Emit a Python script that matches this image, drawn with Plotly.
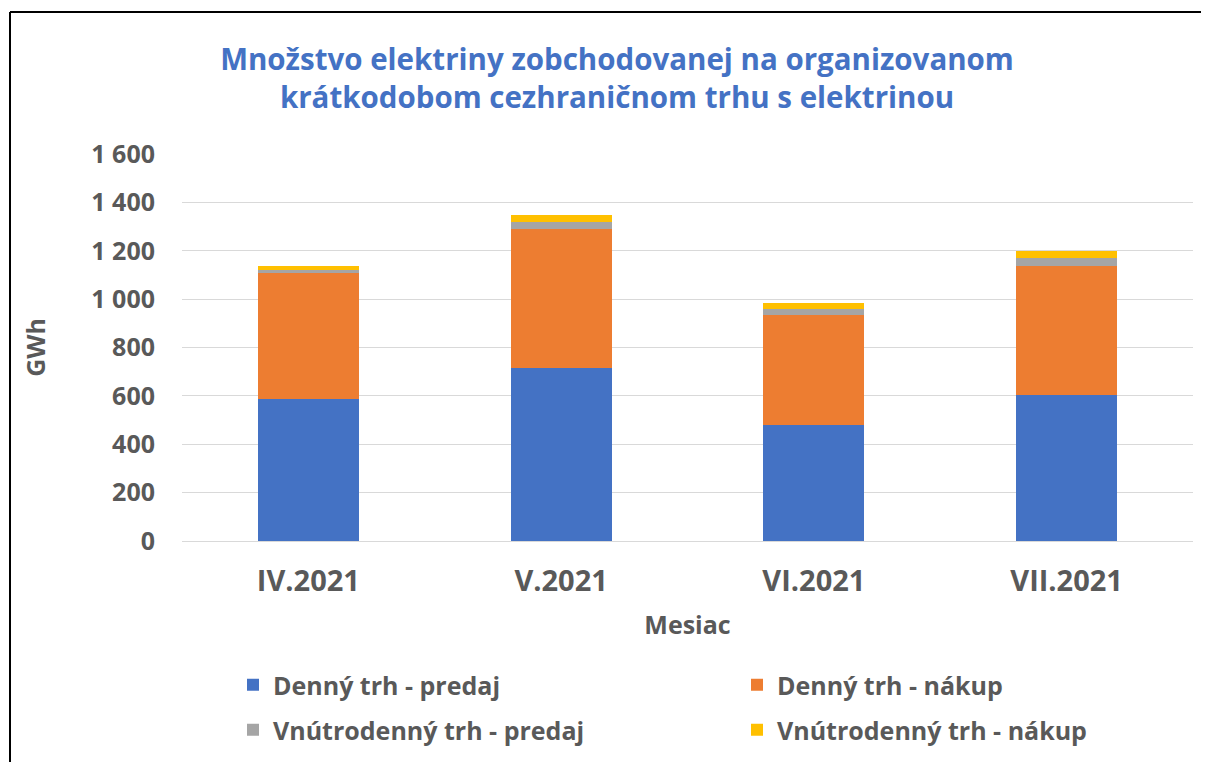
import plotly.graph_objects as go

months = ["IV.2021", "V.2021", "VI.2021", "VII.2021"]
denny_predaj = [587, 714, 481, 602]
denny_nakup = [520, 577, 453, 536]
vnutro_predaj = [13, 26, 24, 32]
vnutro_nakup = [18, 29, 26, 28]

series_names = ["Denný trh - predaj", "Denný trh - nákup",
                "Vnútrodenný trh - predaj", "Vnútrodenný trh - nákup"]
series_vals = [denny_predaj, denny_nakup, vnutro_predaj, vnutro_nakup]
colors = ["#4472C4", "#ED7D31", "#A5A5A5", "#FFC000"]
legend_ids = ["legend", "legend2", "legend3", "legend4"]

# page has an 8px body margin; figure sized to fill the rest of the window
OFF = 8
W, H = 1209 - OFF, 762 - OFF
ML, MR, MT, MB = 182 - OFF, 16, 154 - OFF, 221
PW, PH = W - ML - MR, H - MT - MB

FONT = "Open Sans"
TXT = "#595959"


def px_x(rx):
    return (rx - OFF - ML) / PW


def px_y(ry):
    return (H - MB - (ry - OFF)) / PH


fig = go.Figure()
for name, vals, c, lg in zip(series_names, series_vals, colors, legend_ids):
    fig.add_trace(go.Bar(x=months, y=vals, name=name, marker_color=c,
                         marker_line_width=0, legend=lg))

leg_common = dict(
    orientation="h", xanchor="left", yanchor="middle",
    font=dict(family=FONT, size=25, color=TXT, weight="bold"),
    itemclick=False, bgcolor="rgba(0,0,0,0)",
)
# legend grid: two columns, two rows (reference pixel positions)
leg_pos = [(233, 685), (737, 685), (233, 730), (737, 730)]

layout_legends = {}
for lg, (lx, ly) in zip(legend_ids, leg_pos):
    layout_legends[lg] = dict(x=px_x(lx), y=px_y(ly), **leg_common)

fig.update_layout(
    width=W, height=H,
    barmode="stack", bargap=0.6,
    plot_bgcolor="white", paper_bgcolor="white",
    margin=dict(l=ML, r=MR, t=MT, b=MB, autoexpand=False),
    separators=", ",
    font=dict(family=FONT, color=TXT),
    title=dict(
        text="Množstvo elektriny zobchodovanej na organizovanom<br>krátkodobom cezhraničnom trhu s elektrinou",
        x=(617 - OFF) / W, xanchor="center",
        y=1 - (70 - OFF) / H, yanchor="middle",
        font=dict(family=FONT, size=29.5, color="#4472C4", weight="bold"),
    ),
    xaxis=dict(
        showgrid=False, showline=False, ticks="",
        tickfont=dict(family=FONT, size=29, color=TXT, weight="bold"),
        ticklabelstandoff=20,
        title=dict(text="Mesiac", font=dict(family=FONT, size=25, color=TXT, weight="bold"),
                   standoff=18),
    ),
    yaxis=dict(
        range=[0, 1600], tickvals=[0, 200, 400, 600, 800, 1000, 1200, 1400, 1600],
        tickformat=",d",
        showgrid=True, gridcolor="#D9D9D9", gridwidth=1.3,
        zeroline=True, zerolinecolor="#D9D9D9", zerolinewidth=1.3,
        showline=False, ticks="",
        tickfont=dict(family=FONT, size=25, color=TXT, weight="bold"),
        ticklabelstandoff=26,
        title=dict(text="GWh", font=dict(family=FONT, size=25, color=TXT, weight="bold"),
                   standoff=38),
    ),
    showlegend=True,
    **layout_legends,
)

# frame lines (left and top edges of the original chart border)
fig.add_shape(type="line", xref="paper", yref="paper",
              x0=px_x(10), x1=px_x(1209), y0=px_y(12), y1=px_y(12),
              line=dict(color="black", width=2))
fig.add_shape(type="line", xref="paper", yref="paper",
              x0=px_x(10), x1=px_x(10), y0=px_y(12), y1=px_y(762),
              line=dict(color="black", width=2))

fig.write_html("out.html")
